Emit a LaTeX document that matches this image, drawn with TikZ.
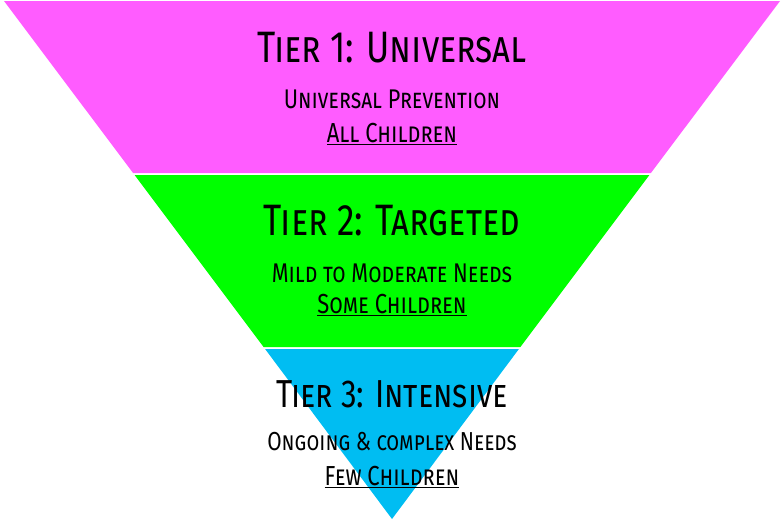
\documentclass[tikz,border=0pt]{standalone}
\usepackage{fontspec}
\newfontfamily\tierfont[Letters=SmallCaps,FakeStretch=0.8]{Fira Sans}
\usepackage{xcolor}
\definecolor{tierPink}{HTML}{FF5CFF}
\definecolor{tierGreen}{HTML}{00FF00}
\definecolor{tierCyan}{HTML}{00BDF2}
\usepackage{tikz}
\usetikzlibrary{positioning,calc}

\begin{document}
\begin{tikzpicture}[x=1pt,y=-1pt,
      every node/.style={inner sep=0pt,anchor=base,text=black},
      title/.style={font=\tierfont\fontsize{44}{46}\selectfont},
      need/.style={font=\tierfont\fontsize{27}{30}\selectfont},
      group/.style={font=\tierfont\fontsize{27.5}{30}\selectfont},
    ]
    \useasboundingbox (0,0) rectangle (784,522);

    % Tier bands
    \fill[tierPink]  (4,1) -- (780,1) -- (650.9,173) -- (133.1,173) -- cycle;
    \fill[tierGreen] (134.6,175) -- (649.4,175) -- (520.4,347) -- (263.6,347) -- cycle;
    \fill[tierCyan]  (265.1,349) -- (518.9,349) -- (392,519) -- cycle;

    % Tier 1
    \node[title] (t1) at (392,62) {Tier 1: Universal};
    \node[need]  (n1) at (392,108) {Universal Prevention};
    \node[group] (g1) at (392,142) {\underline{All Children}};

    % Tier 2
    \node[title] (t2) at (392,235) {Tier 2: Targeted};
    \node[need]  (n2) at (392,282) {Mild to Moderate Needs};
    \node[group] (g2) at (392,313) {\underline{Some Children}};

    % Tier 3
    \node[title,font=\tierfont\fontsize{39}{42}\selectfont] (t3) at (392,407) {Tier 3: Intensive};
    \node[need,font=\tierfont\fontsize{26}{30}\selectfont] (n3) at (392,450) {Ongoing \& complex Needs};
    \node[group] (g3) at (392,485) {\underline{Few Children}};

  \end{tikzpicture}
\end{document}
